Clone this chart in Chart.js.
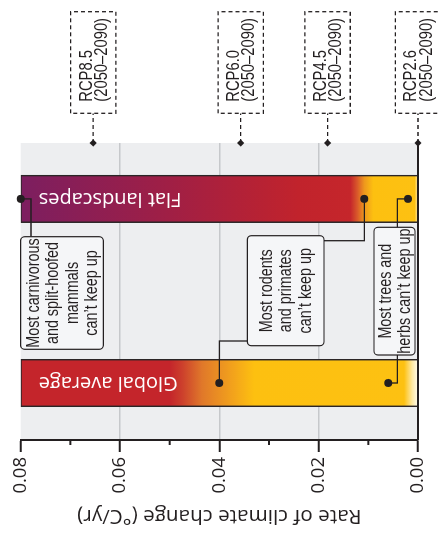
<!DOCTYPE html>
<html><head><meta charset="utf-8">
<script src="https://cdn.jsdelivr.net/npm/chart.js@4.4.1/dist/chart.umd.min.js"></script>
<style>
html,body{margin:0;padding:0;background:#fff;overflow:hidden;width:438px;height:534px;}
#wrap{position:absolute;left:0;top:0;width:534px;height:438px;transform-origin:0 0;transform:translate(0,534px) rotate(-90deg);}
</style></head><body>
<div id="wrap"><canvas id="c" width="534" height="438"></canvas></div>
<script>
// ---------- data ----------
const categories = ['Global average', 'Flat landscapes'];
const barValues = [0.08, 0.08];
const yTicks = [0, 0.02, 0.04, 0.06, 0.08];
const minorTicks = [0.01, 0.03, 0.05, 0.07];
const axisTitle = 'Rate of climate change (°C/yr)';
const carnivores = [null, 0.08];
const rodents = [0.04, 0.0108];
const trees = [0.006, 0.002];
const carnivoresText = ['Most carnivorous', 'and split-hoofed', 'mammals', 'can’t keep up'];
const rodentsText = ['Most rodents', 'and primates', 'can’t keep up'];
const treesText = ['Most trees and', 'herbs can’t keep up'];
const rcpNames = ['RCP8.5', 'RCP6.0', 'RCP4.5', 'RCP2.6'];
const rcpPeriods = ['(2050–2090)', '(2050–2090)', '(2050–2090)', '(2050–2090)'];
const rcpValues = [0.0654, 0.0357, 0.0182, 0.0];

// ---------- style ----------
const INK = '#231F20';
const MAIN_FONT = "'Open Sans', 'Liberation Sans', sans-serif";
const NARROW_FONT = "'Liberation Sans', Arial, sans-serif";
const NARROW = 0.82;
const X_MIN = -0.30962, X_MAX = 1.30364;
const gradients = [
  [[0, '#FFFBEF'], [0.0012, '#FEE8A0'], [0.0028, '#FDC112'], [0.033, '#FDC010'], [0.0375, '#F2A11C'], [0.0435, '#E0782A'], [0.0475, '#CC3F2C'], [0.0500, '#C4252B'], [0.08, '#C4252B']],
  [[0, '#FFE9A8'], [0.0007, '#FDC112'], [0.009, '#FDC010'], [0.0108, '#EE981D'], [0.0122, '#D9592A'], [0.0136, '#C5262B'], [0.024, '#C1232C'], [0.05, '#A01F45'], [0.08, '#7C1E60']]
];
const notes = [
  {data: carnivores, lines: carnivoresText, box: {x: 184.7, y: 20.7, w: 112.6, h: 82.6},
   links: [{index: 1, to: [297.3, 31], first: 'y'}]},
  {data: rodents, lines: rodentsText, box: {x: 188.3, y: 247.3, w: 110, h: 76.7},
   links: [{index: 0, to: [193, 247.3], first: 'x'}, {index: 1, to: [293.3, 324], first: 'x'}]},
  {data: trees, lines: treesText, box: {x: 179, y: 374, w: 127.7, h: 41},
   links: [{index: 0, to: [179, 397.3], first: 'y'}, {index: 1, to: [306.7, 397.3], first: 'y'}]}
];
const rcpBox = {x: 420.7, w: 101.6, h: 45.3, textX: 432.3};

function narrowText(ctx, text, x, y, align) {
  ctx.save();
  ctx.translate(x, y);
  ctx.scale(NARROW, 1);
  ctx.textAlign = align;
  ctx.fillText(text, 0, 0);
  ctx.restore();
}

function barGradient(ctx) {
  const chart = ctx.chart;
  if (!chart.chartArea) return '#FDC010';
  const y = chart.scales.y;
  const p0 = y.getPixelForValue(0), p1 = y.getPixelForValue(0.08);
  const g = chart.ctx.createLinearGradient(0, p0, 0, p1);
  gradients[ctx.dataIndex].forEach(([v, c]) => g.addColorStop(Math.min(1, v / 0.08), c));
  return g;
}

const bgPlugin = {
  id: 'bg',
  beforeDraw(chart) {
    const {ctx, chartArea: a} = chart;
    ctx.save();
    ctx.fillStyle = '#EDEEF0';
    ctx.fillRect(a.left, a.top, a.right - a.left, a.bottom - a.top);
    ctx.restore();
  }
};

const decorPlugin = {
  id: 'decor',
  afterDatasetsDraw(chart) {
    const {ctx, chartArea: a} = chart;
    const ys = chart.scales.y;
    ctx.save();
    // zero line
    const y0 = ys.getPixelForValue(0);
    ctx.strokeStyle = INK; ctx.lineWidth = 2;
    ctx.beginPath(); ctx.moveTo(a.left, y0); ctx.lineTo(a.right, y0); ctx.stroke();
    // minor ticks
    minorTicks.forEach(v => {
      const p = ys.getPixelForValue(v);
      ctx.beginPath(); ctx.moveTo(a.left, p); ctx.lineTo(a.left - 5, p); ctx.stroke();
    });
    // bar labels
    const barMeta = chart.getDatasetMeta(0);
    ctx.fillStyle = '#FFFFFF';
    ctx.font = '20px ' + MAIN_FONT;
    barMeta.data.forEach((bar, i) => {
      ctx.save();
      ctx.translate(bar.x, a.top + 18);
      ctx.rotate(-Math.PI / 2);
      ctx.textAlign = 'right'; ctx.textBaseline = 'middle';
      ctx.fillText(categories[i], 0, 0);
      ctx.restore();
    });
    // leader lines and boxes
    notes.forEach((n, k) => {
      const meta = chart.getDatasetMeta(k + 1);
      ctx.strokeStyle = INK; ctx.lineWidth = 1.3; ctx.setLineDash([]);
      n.links.forEach(l => {
        const pt = meta.data[l.index];
        const [tx, ty] = l.to;
        ctx.beginPath();
        ctx.moveTo(pt.x, pt.y);
        if (l.first === 'y') { ctx.lineTo(pt.x, ty); } else { ctx.lineTo(tx, pt.y); }
        ctx.lineTo(tx, ty);
        ctx.stroke();
      });
      const b = n.box;
      ctx.beginPath();
      ctx.roundRect(b.x, b.y, b.w, b.h, 4);
      ctx.fillStyle = '#F5F6F8'; ctx.fill();
      ctx.lineWidth = 1.2; ctx.strokeStyle = INK; ctx.stroke();
      ctx.fillStyle = INK;
      ctx.font = '17.5px ' + NARROW_FONT;
      ctx.textBaseline = 'middle';
      const lh = 19.5, cy = b.y + b.h / 2 + 1;
      n.lines.forEach((t, i) => {
        narrowText(ctx, t, b.x + b.w / 2, cy + (i - (n.lines.length - 1) / 2) * lh, 'center');
      });
    });
    // RCP markers
    const rmeta = chart.getDatasetMeta(notes.length + 1);
    rmeta.data.forEach((pt, i) => {
      ctx.strokeStyle = INK; ctx.lineWidth = 1.3; ctx.setLineDash([4, 3]);
      ctx.beginPath(); ctx.moveTo(pt.x, pt.y); ctx.lineTo(rcpBox.x, pt.y); ctx.stroke();
      const top = pt.y - rcpBox.h / 2;
      ctx.fillStyle = '#FFFFFF';
      ctx.fillRect(rcpBox.x, top, rcpBox.w, rcpBox.h);
      ctx.strokeRect(rcpBox.x, top, rcpBox.w, rcpBox.h);
      ctx.setLineDash([]);
      ctx.fillStyle = INK;
      ctx.font = '18px ' + NARROW_FONT;
      ctx.textBaseline = 'alphabetic';
      narrowText(ctx, rcpNames[i], rcpBox.textX, pt.y - 1.7, 'left');
      narrowText(ctx, rcpPeriods[i], rcpBox.textX, pt.y + 13.5, 'left');
    });
    ctx.restore();
  }
};

const pointStyle = {type: 'line', showLine: false, pointRadius: 4, pointHoverRadius: 4,
  pointBackgroundColor: INK, pointBorderColor: INK, pointBorderWidth: 0, clip: false, order: 0};

new Chart(document.getElementById('c'), {
  type: 'bar',
  data: {
    labels: categories.map((_, i) => i),
    datasets: [
      {label: 'Rate', data: barValues, backgroundColor: barGradient, borderColor: '#2B2526',
       borderWidth: 1.5, borderSkipped: 'start', barThickness: 47.5, order: 2},
      Object.assign({label: carnivoresText.join(' '), data: carnivores}, pointStyle),
      Object.assign({label: rodentsText.join(' '), data: rodents}, pointStyle),
      Object.assign({label: treesText.join(' '), data: trees}, pointStyle),
      {type: 'scatter', label: 'RCP', data: rcpValues.map(v => ({x: X_MAX, y: v})),
       pointStyle: 'rectRot', pointRadius: 3.6, pointBackgroundColor: INK, pointBorderColor: INK,
       pointBorderWidth: 0, clip: false, order: 0}
    ]
  },
  options: {
    responsive: false, animation: false, devicePixelRatio: 1,
    layout: {padding: {left: 0, right: 143, top: 20.7, bottom: 20}},
    plugins: {legend: {display: false}, tooltip: {enabled: false}},
    scales: {
      x: {type: 'linear', min: X_MIN, max: X_MAX, display: false, offset: false},
      y: {
        min: 0, max: 0.08, position: 'left',
        afterBuildTicks: s => { s.ticks = yTicks.map(v => ({value: v})); },
        afterFit: s => { s.width = 94; },
        ticks: {callback: v => Number(v).toFixed(2), color: INK, padding: 5,
                font: {family: MAIN_FONT, size: 18.5}, minRotation: 0, maxRotation: 0},
        grid: {
          color: c => (c.tick && (c.tick.value === 0 || c.tick.value === 0.08)) ? 'rgba(0,0,0,0)' : '#C6C8CB',
          lineWidth: 1.5, tickColor: INK, tickWidth: 2, tickLength: 12, drawTicks: true
        },
        border: {display: true, color: INK, width: 2},
        title: {display: true, text: axisTitle, color: INK, padding: {top: 6, bottom: 0},
                font: {family: MAIN_FONT, size: 20.7}}
      }
    }
  },
  plugins: [bgPlugin, decorPlugin]
});
</script>
</body></html>
